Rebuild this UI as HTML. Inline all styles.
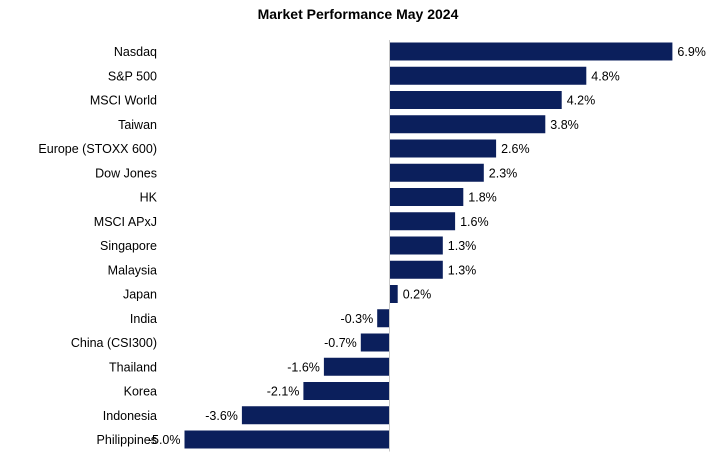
<!DOCTYPE html>
<html><head><meta charset="utf-8"><style>
body{margin:0;background:#fff;}
svg{display:block;font-family:"Liberation Sans",sans-serif;}
</style></head><body>
<svg id="chart" width="716" height="455">
<text x="358" y="19" text-anchor="middle" font-size="14" font-weight="bold" fill="#000">Market Performance May 2024</text>
<g id="bars"></g>
</svg>
<script>
const categories=["Nasdaq","S&P 500","MSCI World","Taiwan","Europe (STOXX 600)","Dow Jones","HK","MSCI APxJ","Singapore","Malaysia","Japan","India","China (CSI300)","Thailand","Korea","Indonesia","Philippines"];
const values=[6.9,4.8,4.2,3.8,2.6,2.3,1.8,1.6,1.3,1.3,0.2,-0.3,-0.7,-1.6,-2.1,-3.6,-5.0];
const valueLabels=["6.9%","4.8%","4.2%","3.8%","2.6%","2.3%","1.8%","1.6%","1.3%","1.3%","0.2%","-0.3%","-0.7%","-1.6%","-2.1%","-3.6%","-5.0%"];
const NS="http://www.w3.org/2000/svg";
const x0=389.5, pxPer=41;
const xScale=v=>x0+v*pxPer;
const rowY=i=>51.5+i*24.25;
const g=document.getElementById('bars');
function mk(t,a){const e=document.createElementNS(NS,t);for(const k in a)e.setAttribute(k,a[k]);return e;}
categories.forEach((c,i)=>{
  const v=values[i],y=rowY(i),xa=xScale(Math.min(0,v)),xb=xScale(Math.max(0,v));
  const r=mk('rect',{x:xa,y:y-9,width:xb-xa,height:18,fill:'#0b1f5c'});
  
  
  g.appendChild(r);
  const l=mk('text',{x:157,y:y+4.5,'text-anchor':'end','font-size':12.5,fill:'#000'});
  l.textContent=c;
  
  
  g.appendChild(l);
  const vl=mk('text',{x:v>=0?xb+5:xa-4,y:y+4.5,'text-anchor':v>=0?'start':'end','font-size':12.5,fill:'#000'});
  vl.textContent=valueLabels[i];
  
  
  g.appendChild(vl);
});
const ax=mk('line',{x1:x0,x2:x0,y1:40,y2:rowY(16)+12,stroke:'#c8c8c8','stroke-width':1});


g.appendChild(ax);
</script>
</body></html>
